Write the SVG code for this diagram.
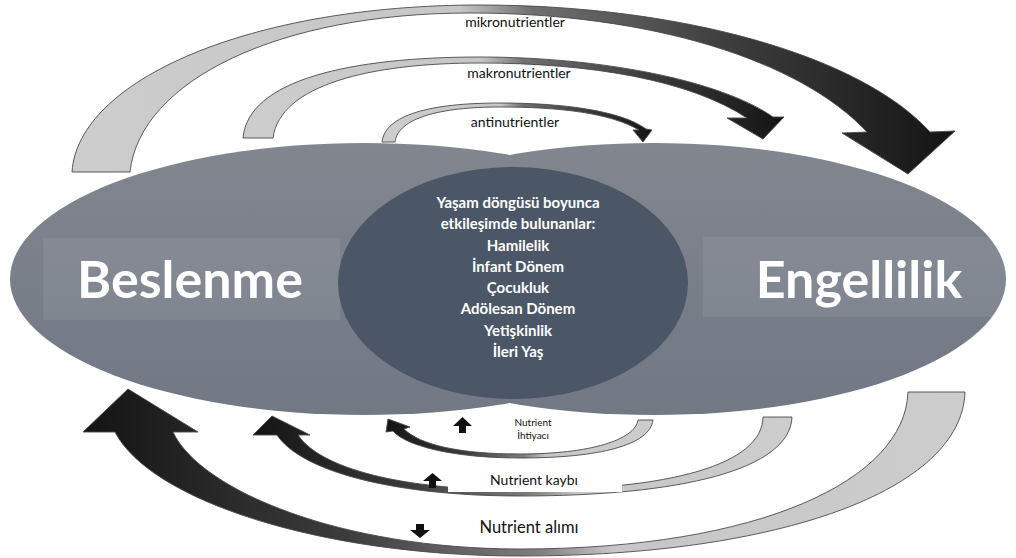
<svg xmlns="http://www.w3.org/2000/svg" width="1016" height="558" viewBox="0 0 1016 558">
<style>
.lbl{font-family:Lato,"Liberation Sans",sans-serif;fill:#111;text-anchor:middle}
.big{font-family:Lato,"Open Sans",sans-serif;font-weight:700;fill:#fff;text-anchor:middle;font-size:52px}
.ctr{font-family:Lato,"Open Sans",sans-serif;font-weight:700;fill:#fff;text-anchor:middle;font-size:15px}
.arr{stroke:#4a4a4a;stroke-width:0.9;stroke-linejoin:round}
.ell{fill:url(#gEll)}
.hl{fill:#ffffff;fill-opacity:0.07}
.blk{fill:#111}
</style>
<defs>
<linearGradient id="gEll" x1="0" y1="0" x2="0" y2="1">
<stop offset="0" stop-color="#81868f"/>
<stop offset="1" stop-color="#727884"/>
</linearGradient>
<linearGradient id="gTop" x1="0" y1="0" x2="1" y2="0">
<stop offset="0" stop-color="#cdcdcd"/>
<stop offset="0.44" stop-color="#c6c6c6"/>
<stop offset="0.52" stop-color="#707070"/>
<stop offset="0.75" stop-color="#3c3c3c"/>
<stop offset="1" stop-color="#141414"/>
</linearGradient>
<linearGradient id="gBot" x1="0" y1="0" x2="1" y2="0">
<stop offset="0" stop-color="#141414"/>
<stop offset="0.3" stop-color="#3c3c3c"/>
<stop offset="0.52" stop-color="#808080"/>
<stop offset="0.6" stop-color="#c6c6c6"/>
<stop offset="1" stop-color="#cdcdcd"/>
</linearGradient>
</defs>
<rect width="1016" height="558" fill="#fff"/>

<g id="beslenme">
<ellipse class="ell" cx="364" cy="279" rx="354" ry="136"/>
</g>
<g id="engellilik">
<ellipse class="ell" cx="654" cy="279" rx="352" ry="136"/>
</g>
<g id="beslenme-label">
<rect class="hl" x="43" y="238" width="297" height="82"/>
<text class="big" x="190" y="298">Beslenme</text>
</g>
<g id="engellilik-label">
<rect class="hl" x="703" y="237" width="313" height="80"/>
<text class="big" x="859" y="298">Engellilik</text>
</g>
<g id="yasam-dongusu">
<ellipse cx="513" cy="283" rx="175" ry="116" fill="#4b5666"/>
<text class="ctr" x="518" y="208">Yaşam döngüsü boyunca</text>
<text class="ctr" x="518" y="229">etkileşimde bulunanlar:</text>
<text class="ctr" x="518" y="251">Hamilelik</text>
<text class="ctr" x="518" y="272">İnfant Dönem</text>
<text class="ctr" x="518" y="293">Çocukluk</text>
<text class="ctr" x="518" y="314">Adölesan Dönem</text>
<text class="ctr" x="518" y="336">Yetişkinlik</text>
<text class="ctr" x="518" y="357">İleri Yaş</text>
</g>

<g id="connectors">
<path class="arr" fill="url(#gTop)" d="M72,172 C78,80 250,5 480,5 C680,5 860,55 930,132 L955,131 L908,174 L842,133 L867,132 C800,60 650,13 470,13 C280,13 140,80 130,172 Z"/>
<path class="arr" fill="url(#gTop)" d="M243,138 C248,80 350,57 480,57 C600,57 720,80 773,117 L784,117 L763,139 L727,118 L747,118 C690,80 590,63 480,63 C370,63 280,85 273,138 Z"/>
<path class="arr" fill="url(#gTop)" d="M382,142 C385,115 430,103 500,103 C560,103 620,110 646,129 L652,130 L643,142 L633,130 L639,130 C610,113 560,107 500,107 C440,107 398,118 395,142 Z"/>
<path class="arr" fill="url(#gBot)" d="M965,392 C962,490 780,556 520,556 C320,556 150,500 115,432 L83,432 L128,389 L198,432 L173,432 C200,490 340,549 520,549 C760,549 905,480 908,392 Z"/>
<path class="arr" fill="url(#gBot)" d="M792,417 C790,470 680,496 520,496 C390,496 300,470 277,435 L253,435 L272,416 L310,435 L298,435 C320,468 400,490 520,490 C670,490 762,465 763,417 Z"/>
<path class="arr" fill="url(#gBot)" d="M653,420 C650,445 600,458 520,458 C450,458 405,445 393,431 L386,432 L388,419 L410,427 L404,429 C420,445 460,454 520,454 C590,454 635,440 638,420 Z"/>
</g>

<g id="top-labels">
<text class="lbl" x="515" y="27" font-size="14">mikronutrientler</text>
<text class="lbl" x="519" y="78" font-size="14">makronutrientler</text>
<text class="lbl" x="515" y="127" font-size="14">antinutrientler</text>
</g>

<g id="nutrient-ihtiyaci">
<polygon class="blk" points="462.5,417 472,426 466,426 466,433 459,433 459,426 453,426"/>
<text class="lbl" x="533" y="426" font-size="10">Nutrient</text>
<text class="lbl" x="533" y="439" font-size="10">İhtiyacı</text>
</g>
<g id="nutrient-kaybi">
<rect x="448" y="465" width="174" height="27" fill="#fff"/>
<polygon class="blk" points="432.5,473 442,481 436,481 436,488 429,488 429,481 423,481"/>
<text class="lbl" x="534" y="485" font-size="14">Nutrient kaybı</text>
</g>
<g id="nutrient-alimi">
<polygon class="blk" points="420,538 430,530 424,530 424,524 416,524 416,530 410,530"/>
<text class="lbl" x="529" y="533" font-size="16.5">Nutrient alımı</text>
</g>
</svg>
